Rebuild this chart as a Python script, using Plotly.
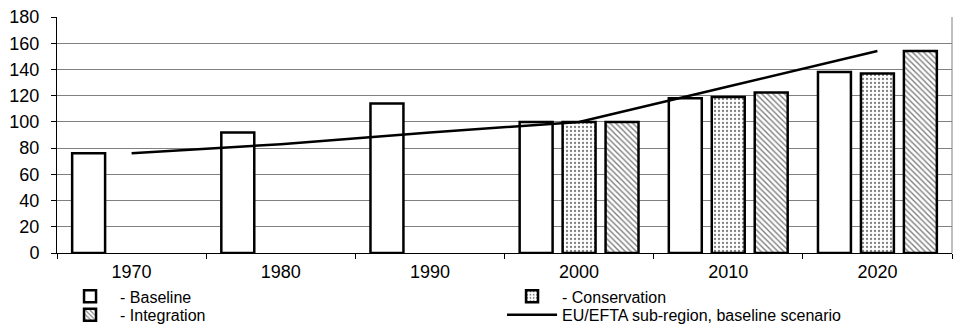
import plotly.graph_objects as go

years = ["1970", "1980", "1990", "2000", "2010", "2020"]
baseline = [76, 92, 114, 100, 118, 138]
conservation = [None, None, None, 100, 119, 137]
integration = [None, None, None, 100, 122.5, 154]
eu_efta = [76, 83, 92, 100, 127, 154]

FONT = "Liberation Sans, Arial, sans-serif"

fig = go.Figure()
fig.add_trace(go.Bar(name="- Baseline", x=years, y=baseline, legend="legend",
                     marker=dict(color="white", line=dict(color="black", width=2.5))))
fig.add_trace(go.Bar(name="- Conservation", x=years, y=conservation, legend="legend",
                     marker=dict(color="white", line=dict(color="black", width=2.5),
                                 pattern=dict(shape=".", fgcolor="black", bgcolor="white",
                                              size=4, solidity=0.25))))
fig.add_trace(go.Bar(name="- Integration", x=years, y=integration, legend="legend2",
                     marker=dict(color="white", line=dict(color="black", width=2.5),
                                 pattern=dict(shape="\\", fgcolor="black", bgcolor="white",
                                              size=4, solidity=0.35))))
fig.add_trace(go.Scatter(name="EU/EFTA sub-region, baseline scenario", x=years, y=eu_efta,
                         legend="legend2",
                         mode="lines", line=dict(color="black", width=2.5)))

leg_common = dict(orientation="h", xanchor="left", yanchor="top",
                  entrywidth=377, entrywidthmode="pixels",
                  font=dict(family=FONT, size=16, color="black"),
                  bgcolor="rgba(0,0,0,0)", itemwidth=50)

fig.update_layout(
    width=953, height=329,
    margin=dict(l=57, r=1, t=17, b=76, autoexpand=False),
    paper_bgcolor="white", plot_bgcolor="white",
    barmode="group", bargap=0.136, bargroupgap=0.233,
    font=dict(family=FONT, size=18, color="black"),
    showlegend=True,
    legend=dict(x=0.0034, y=-0.112, **leg_common),
    legend2=dict(x=0.0034, y=-0.190, **leg_common),
)
fig.update_xaxes(showline=True, linecolor="black", linewidth=1, automargin=False,
                 ticks="outside", tickson="boundaries", ticklen=5, tickcolor="black",
                 ticklabelstandoff=2,
                 showgrid=False, tickfont=dict(size=18))
fig.update_yaxes(range=[0, 180], dtick=20, showline=True, linecolor="black", linewidth=1,
                 automargin=False,
                 ticks="outside", ticklen=5, tickcolor="black", ticklabelstandoff=8,
                 showgrid=True, gridcolor="#808080", gridwidth=1,
                 zeroline=False, tickfont=dict(size=18))
fig.add_shape(type="line", xref="paper", yref="paper", x0=1, x1=1, y0=0, y1=1,
              line=dict(color="#808080", width=1))

fig.write_html("out.html", config={"displayModeBar": False},
               post_script="document.body.style.margin='0px';")
